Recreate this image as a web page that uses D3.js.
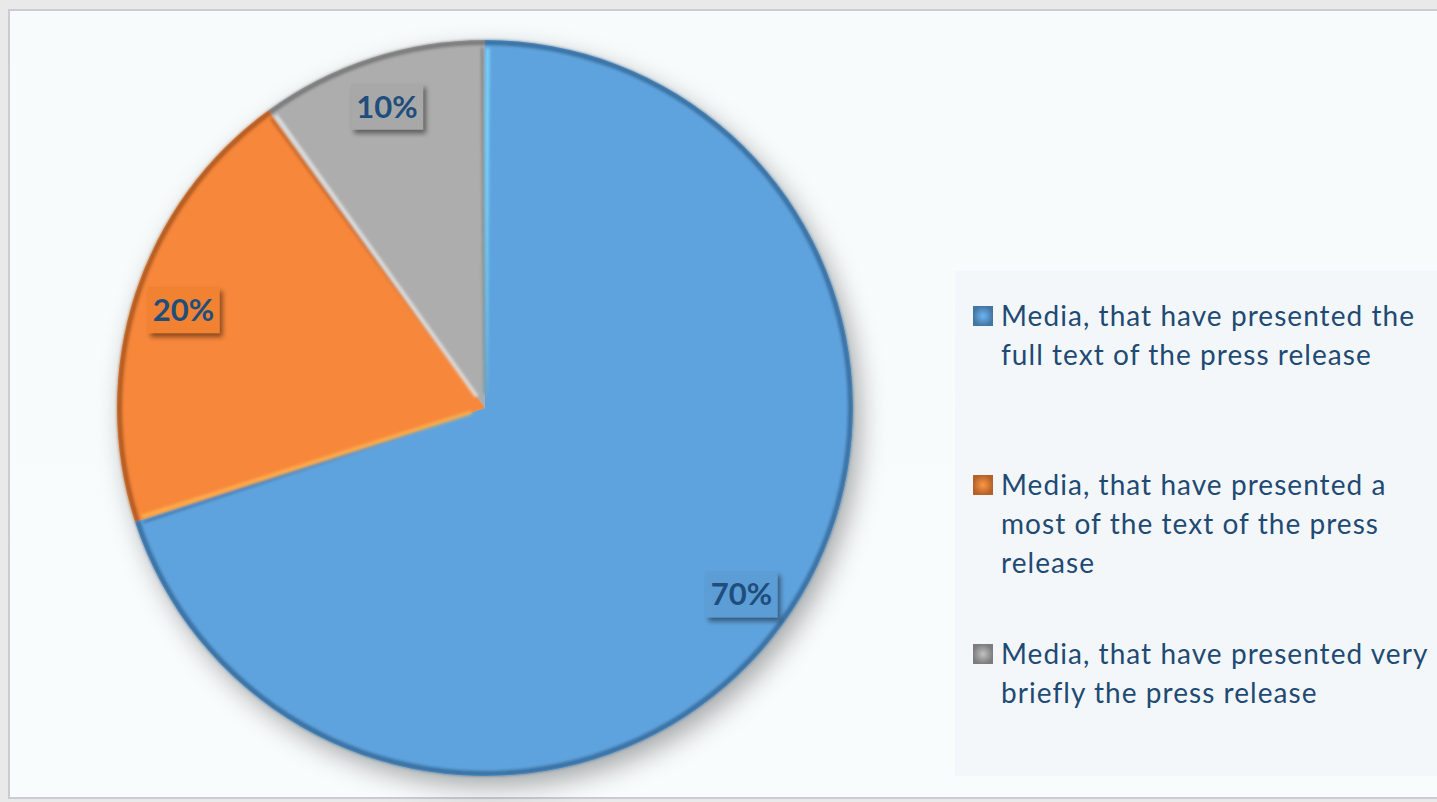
<!DOCTYPE html>
<html>
<head>
<meta charset="utf-8">
<script src="https://cdn.jsdelivr.net/npm/d3@7"></script>
<style>
  html, body { margin: 0; padding: 0; background: #e9e9e9; overflow: hidden; }
  svg { display: block; }
</style>
</head>
<body>
<svg id="chart" width="1437" height="802"></svg>
<script>
// Share of media by how much of the press release they presented
const categories = [
  "Media, that have presented the full text of the press release",
  "Media, that have presented a most of the text of the press release",
  "Media, that have presented very briefly the press release"
];
const legendLines = [
  ["Media, that have presented the", "full text of the press release"],
  ["Media, that have presented a", "most of the text of the press", "release"],
  ["Media, that have presented very", "briefly the press release"]
];
const values = [70, 20, 10];
const colors = ["#5fa3de", "#f7873a", "#adadad"];
const rimColors = ["#2f5f8c", "#9a4e18", "#6a6a6a"];
const labelBoxColors = ["#5b9dd6", "#f08233", "#a8a8a8"];

const svg = d3.select("#chart");
const W = 1437, H = 802;
const cx = 485, cy = 408, R = 368;

const defs = svg.append("defs");

// chart area background
const bg = defs.append("linearGradient").attr("id", "bgGrad")
  .attr("x1", 0).attr("y1", 0).attr("x2", 0).attr("y2", 1);
bg.append("stop").attr("offset", "0%").attr("stop-color", "#f7fbfc");
bg.append("stop").attr("offset", "100%").attr("stop-color", "#f9fcfd");

// soft shadow under the pie
const sh = defs.append("filter").attr("id", "pieShadow")
  .attr("x", "-20%").attr("y", "-20%").attr("width", "140%").attr("height", "140%");
sh.append("feDropShadow").attr("dx", 7).attr("dy", 11).attr("stdDeviation", 13)
  .attr("flood-color", "#000").attr("flood-opacity", 0.33);

// shadow under the value boxes
const lsh = defs.append("filter").attr("id", "labelShadow")
  .attr("x", "-30%").attr("y", "-30%").attr("width", "160%").attr("height", "160%");
lsh.append("feDropShadow").attr("dx", 3).attr("dy", 4).attr("stdDeviation", 2.5)
  .attr("flood-color", "#000").attr("flood-opacity", 0.45);

// blur for the bevel edge lines
const eb = defs.append("filter").attr("id", "edgeBlur");
eb.append("feGaussianBlur").attr("stdDeviation", 1.6);

// legend marker gradients
colors.forEach((c, i) => {
  const g = defs.append("radialGradient").attr("id", "mk" + i);
  g.append("stop").attr("offset", "0%").attr("stop-color", d3.color(c).brighter(0.3));
  g.append("stop").attr("offset", "100%").attr("stop-color", d3.color(c).darker(0.9));
});

// frame
svg.append("rect").attr("x", 0).attr("y", 0).attr("width", W).attr("height", H).attr("fill", "#e9e9e9");
svg.append("rect").attr("x", 9).attr("y", 10).attr("width", W + 20).attr("height", 788)
  .attr("fill", "url(#bgGrad)").attr("stroke", "#c9cdd0").attr("stroke-width", 2);

const pie = d3.pie().sort(null).value(d => d)(values);
const arc = d3.arc().innerRadius(0).outerRadius(R);
const rimArc = d3.arc().innerRadius(R - 5).outerRadius(R);
const labelArc = d3.arc().innerRadius(317).outerRadius(317);

const g = svg.append("g").attr("transform", `translate(${cx},${cy})`);

// slices with shadow
const sg = g.append("g").attr("filter", "url(#pieShadow)");
sg.selectAll("path.slice").data(pie).join("path")
  .attr("class", "slice")
  .attr("d", arc)
  .attr("fill", (d, i) => colors[i]);

// bevel: darker rim along the outer edge
const bevel = g.append("g").attr("filter", "url(#edgeBlur)");
bevel.selectAll("path.rim").data(pie).join("path")
  .attr("d", rimArc)
  .attr("fill", (d, i) => rimColors[i])
  .attr("opacity", 0.75);

// bevel: light highlight along each slice's leading radial edge, dark along its trailing edge
pie.forEach((d, i) => {
  const a0 = d.startAngle, a1 = d.endAngle;
  const off = 0.012;
  const p = (a, r) => [Math.sin(a) * r, -Math.cos(a) * r];
  const hi = [p(a0 + 0.004, 14), p(a0 + off * 0.6, R - 8)];
  const lo = [p(a1 - 0.004, 14), p(a1 - off * 0.6, R - 8)];
  bevel.append("line")
    .attr("x1", hi[0][0]).attr("y1", hi[0][1]).attr("x2", hi[1][0]).attr("y2", hi[1][1])
    .attr("stroke", d3.color(colors[i]).brighter(0.8)).attr("stroke-width", 4).attr("opacity", 0.9);
  bevel.append("line")
    .attr("x1", lo[0][0]).attr("y1", lo[0][1]).attr("x2", lo[1][0]).attr("y2", lo[1][1])
    .attr("stroke", rimColors[i]).attr("stroke-width", 3).attr("opacity", 0.6);
});

// value labels in shaded boxes
const lab = g.selectAll("g.lab").data(pie).join("g")
  .attr("class", "lab")
  .attr("transform", d => `translate(${labelArc.centroid(d)})`);
lab.append("rect")
  .attr("x", -36).attr("y", -23).attr("width", 72).attr("height", 46)
  .attr("fill", (d, i) => labelBoxColors[i])
  .attr("filter", "url(#labelShadow)");
lab.append("text")
  .attr("text-anchor", "middle").attr("dy", "0.36em")
  .attr("font-family", "Lato, 'Open Sans', sans-serif")
  .attr("font-weight", 700).attr("font-size", 31)
  .attr("fill", "#1f4e7c")
  .text(d => d.data + "%");

// legend
const legend = svg.append("g");
legend.append("rect").attr("x", 955).attr("y", 271).attr("width", 500).attr("height", 505)
  .attr("fill", "#f4f7fa");

const itemY = [316, 485, 654];
const lineH = 39;
legendLines.forEach((lines, i) => {
  const it = legend.append("g").attr("transform", `translate(973,${itemY[i]})`);
  it.append("rect").attr("x", 0).attr("y", -10).attr("width", 20).attr("height", 20)
    .attr("fill", `url(#mk${i})`);
  const t = it.append("text")
    .attr("font-family", "Lato, 'Open Sans', sans-serif")
    .attr("font-size", 28).attr("letter-spacing", 1.05).attr("fill", "#1f4a74");
  t.append("title").text(categories[i]);
  lines.forEach((ln, j) => {
    t.append("tspan").attr("x", 28).attr("y", j * lineH).attr("dy", "0.35em").text(ln);
  });
});
</script>
</body>
</html>
